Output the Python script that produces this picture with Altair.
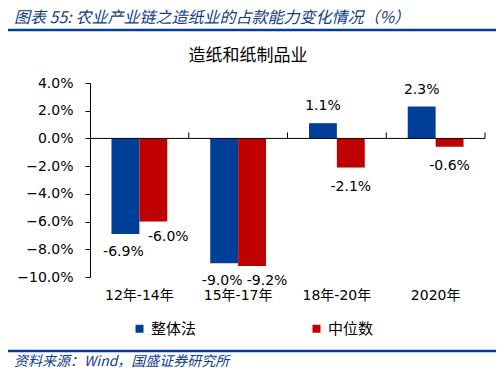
import altair as alt
import pandas as pd

categories = ["12年-14年", "15年-17年", "18年-20年", "2020年"]
series = ["整体法", "中位数"]
overall = [-6.9, -9.0, 1.1, 2.3]
median = [-6.0, -9.2, -2.1, -0.6]
colors = ["#003F98", "#C00000"]
y_ticks = [4, 2, 0, -2, -4, -6, -8, -10]

header_text = "图表 55:  农业产业链之造纸业的占款能力变化情况（%）"
chart_title = "造纸和纸制品业"
source_text = "资料来源：Wind，国盛证券研究所"

rows = []
for c, a, b in zip(categories, overall, median):
    rows.append({"cat": c, "series": series[0], "value": a})
    rows.append({"cat": c, "series": series[1], "value": b})
df = pd.DataFrame(rows)

NUMF = "DejaVu Sans, Noto Sans CJK SC"
CJK = "Noto Sans CJK SC"

x_enc_scale = alt.Scale(paddingInner=0, paddingOuter=0)
xo = alt.XOffset("series:N", sort=series,
                 scale=alt.Scale(paddingInner=0, paddingOuter=0.77))
y_scale = alt.Scale(domain=[-10, 4], nice=False, zero=False)
y_axis = alt.Axis(values=y_ticks, grid=False, tickSize=5, labelOverlap=False,
                  tickColor="#000", domainColor="#000",
                  labelExpr="format(datum.value, '.1f') + '%'",
                  labelFont=NUMF, labelFontSize=14, labelColor="#000",
                  labelPadding=12)

bars = alt.Chart(df).mark_bar().encode(
    x=alt.X("cat:N", sort=categories, scale=x_enc_scale, title=None,
            axis=alt.Axis(orient="bottom", ticks=False, domain=False,
                          labelAngle=0, labelFont=NUMF, labelFontSize=14,
                          labelColor="#000", labelPadding=11)),
    xOffset=xo,
    y=alt.Y("value:Q", scale=y_scale, title=None, axis=y_axis),
    color=alt.Color("series:N", sort=series,
                    scale=alt.Scale(domain=series, range=colors),
                    legend=alt.Legend(orient="none", legendX=42, legendY=238,
                                      direction="horizontal", title=None,
                                      symbolType="square", symbolSize=64,
                                      symbolStrokeWidth=0,
                                      labelFont=CJK, labelFontSize=15,
                                      labelColor="#000",
                                      columnPadding=112, labelOffset=4)),
)

# zero line and category-boundary ticks
zero_line = alt.Chart(pd.DataFrame({"z": [0]})).mark_rule(
    color="#000", strokeWidth=1
).encode(y=alt.Y("z:Q", scale=y_scale, title=None, axis=None))

zero_ticks = alt.Chart(pd.DataFrame({"cat": categories})).mark_rule(
    color="#000", strokeWidth=1
).encode(
    x=alt.X("cat:N", sort=categories, scale=x_enc_scale, bandPosition=1,
            title=None, axis=None),
    y=alt.YDatum(0, axis=None, scale=y_scale),
    y2=alt.Y2Datum(0.43),
)

lab = df.assign(label=df["value"].map(lambda v: f"{v:.1f}%"))

def text_layer(filt, dx, dy):
    return alt.Chart(lab).transform_joinaggregate(
        cat_max="max(value)", groupby=["cat"]
    ).transform_filter(filt).mark_text(
        font=NUMF, fontSize=14, color="#000", dx=dx, dy=dy
    ).encode(
        x=alt.X("cat:N", sort=categories, scale=x_enc_scale, title=None,
                axis=None),
        xOffset=xo,
        y=alt.Y("value:Q", scale=y_scale, title=None, axis=None),
        text="label:N",
    )

both_neg = "datum.cat_max < 0"
pos_text = text_layer("datum.value > 0", 0, -17)
neg_text = text_layer(f"datum.value < 0 && !({both_neg})", 0, 19)
neg_blue = text_layer(
    f"datum.value < 0 && {both_neg} && datum.series == '整体法'", -2, 18)
neg_red = text_layer(
    f"datum.value < 0 && {both_neg} && datum.series == '中位数'", 15, 15)

header = alt.Chart(pd.DataFrame({"t": [header_text]})).mark_text(
    font=CJK, fontSize=16, fontStyle="italic", color="#0F3D8C",
    align="left", baseline="middle"
).encode(x=alt.value(-76), y=alt.value(-65), text="t:N")

source = alt.Chart(pd.DataFrame({"t": [source_text]})).mark_text(
    font=CJK, fontSize=14, fontStyle="italic", color="#0F3D8C",
    align="left", baseline="middle"
).encode(x=alt.value(-76), y=alt.value(279), text="t:N")

title = alt.Chart(pd.DataFrame({"t": [chart_title]})).mark_text(
    font=CJK, fontSize=17, color="#000", align="center", baseline="middle"
).encode(x=alt.value(158), y=alt.value(-27), text="t:N")

top_line = alt.Chart(pd.DataFrame({"a": [0]})).mark_rule(
    color="#003F98", strokeWidth=2.5
).encode(x=alt.value(-82), x2=alt.value(406), y=alt.value(-53))

bottom_line = alt.Chart(pd.DataFrame({"a": [0]})).mark_rule(
    color="#003F98", strokeWidth=2.5
).encode(x=alt.value(-82), x2=alt.value(406), y=alt.value(268))

chart = alt.layer(
    bars, zero_line, zero_ticks, pos_text, neg_text, neg_blue, neg_red,
    header, source, title, top_line, bottom_line
).resolve_axis(x="independent", y="independent").properties(
    width=395, height=194,
    autosize=alt.AutoSizeParams(type="none"),
    padding={"left": 82, "top": 75, "right": 11, "bottom": 96},
    background="white",
).configure_view(strokeWidth=0)

chart.save("out.html", embed_options={"renderer": "svg", "actions": False})
